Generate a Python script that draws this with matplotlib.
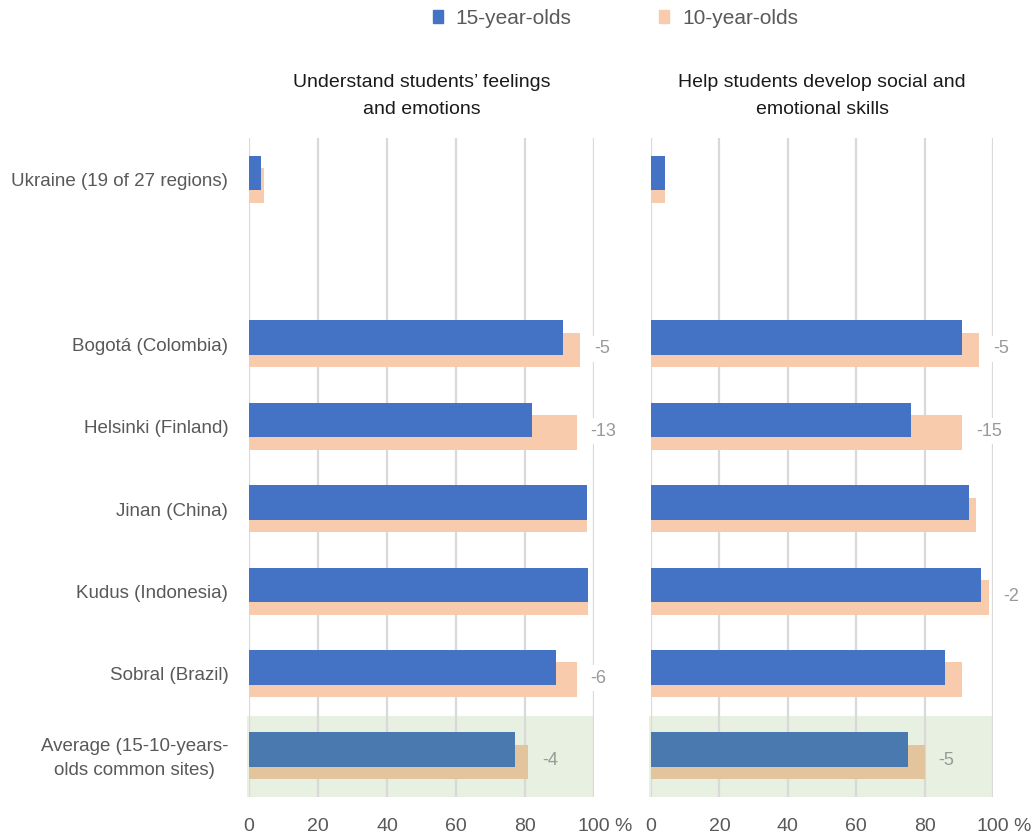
import matplotlib
matplotlib.use("Agg")
import matplotlib.pyplot as plt
from matplotlib.patches import Rectangle
import numpy as np

plt.rcParams['font.family'] = ['Liberation Sans Narrow', 'Liberation Sans', 'DejaVu Sans']

# Sites, top to bottom (an empty slot separates Ukraine from the other sites)
sites = ["Ukraine (19 of 27 regions)", "", "Bogotá (Colombia)", "Helsinki (Finland)",
         "Jinan (China)", "Kudus (Indonesia)", "Sobral (Brazil)",
         "Average (15-10-years-\nolds common sites)"]

panel_titles = ["Understand students\u2019 feelings\nand emotions",
                "Help students develop social and\nemotional skills"]

# Percentages of students reporting teacher support (None = no data in that slot)
feelings_15 = [3.4, None, 91, 82, 98, 98.3, 89, 77]
feelings_10 = [4.3, None, 96, 95, 98, 98.3, 95, 81]
feelings_diff = [None, None, -5, -13, None, None, -6, -4]

skills_15 = [4.2, None, 91, 76, 93, 96.6, 86, 75]
skills_10 = [4.2, None, 96, 91, 95, 98.9, 91, 80]
skills_diff = [None, None, -5, -15, None, -2, None, -5]

xticks = [0, 20, 40, 60, 80, 100]
legend_labels = ["15-year-olds", "10-year-olds"]

BLUE = "#4472C4"
PEACH = "#F8CBAD"
BLUE_AVG = "#4A79B0"
PEACH_AVG = "#E2C49D"
GREEN_BG = "#E8F0E1"
GRID = "#D9D9D9"
TXT = "#595959"

fig = plt.figure(figsize=(10.36, 8.35), dpi=100)

W, H = 1036, 835
bottom = 1 - 797 / H
height = (797 - 138) / H
ax_l = fig.add_axes([249 / W, bottom, (594 - 249) / W, height])
ax_r = fig.add_axes([651 / W, bottom, (993 - 651) / W, height])

n = len(sites)
ypos = np.arange(n)
bar_h = 0.42
off = 0.075


def draw_panel(ax, v15, v10, diffs, title, show_labels):
    ax.set_xlim(0, 100)
    ax.set_ylim(n - 0.5, -0.5)
    for s in ax.spines.values():
        s.set_visible(False)
    ax.set_xticks(xticks)
    ax.set_xticklabels([str(t) for t in xticks])
    ax.tick_params(axis='x', length=0, labelsize=14, labelcolor=TXT, pad=15)
    ax.xaxis.grid(True, color=GRID, linewidth=1.6)
    ax.set_axisbelow(True)
    ax.set_yticks([])

    # highlight band for the average row
    avg = n - 1
    ax.add_patch(Rectangle((-0.6, avg - 0.48), 100.6, 0.98, facecolor=GREEN_BG,
                           edgecolor="none", zorder=0.5, clip_on=False))

    for i in range(n):
        if v15[i] is None:
            continue
        c15, c10 = (BLUE_AVG, PEACH_AVG) if i == avg else (BLUE, PEACH)
        ax.barh(ypos[i] + off, v10[i], height=bar_h, color=c10, zorder=2)
        ax.barh(ypos[i] - off, v15[i], height=bar_h, color=c15, zorder=3)
        if diffs[i] is not None:
            ax.annotate(str(diffs[i]), xy=(v10[i], ypos[i] + 0.06),
                        xytext=(10, 0), textcoords="offset points",
                        ha="left", va="center", fontsize=13, color="#999999",
                        annotation_clip=False, zorder=4,
                        bbox=dict(boxstyle="square,pad=0.25",
                                  facecolor=GREEN_BG if i == avg else "white",
                                  edgecolor="none"))

    if show_labels:
        for i, s in enumerate(sites):
            if s:
                ax.text(-6, ypos[i] + 0.03, s, ha="right", va="center",
                        multialignment="center", fontsize=13.5, color=TXT,
                        linespacing=1.5)

    ax.text(0.5, 1.03, title, transform=ax.transAxes, ha="center", va="bottom",
            fontsize=14, color="#1A1A1A", linespacing=1.75)
    # "%" sign after the 100 tick label
    ax.text(1.06, -0.045, "%", transform=ax.transAxes, ha="left", va="center",
            fontsize=14, color=TXT)


draw_panel(ax_l, feelings_15, feelings_10, feelings_diff, panel_titles[0], True)
draw_panel(ax_r, skills_15, skills_10, skills_diff, panel_titles[1], False)

# legend across the top
handles = [Rectangle((0, 0), 1, 1, color=BLUE), Rectangle((0, 0), 1, 1, color=PEACH)]
fig.legend(handles, legend_labels, loc="upper center", bbox_to_anchor=(0.594, 1.012),
           ncol=2, frameon=False, fontsize=15, labelcolor=TXT,
           handlelength=0.5, handleheight=0.6, handletextpad=0.6, columnspacing=4.2)

fig.savefig("out.png", dpi=100)
